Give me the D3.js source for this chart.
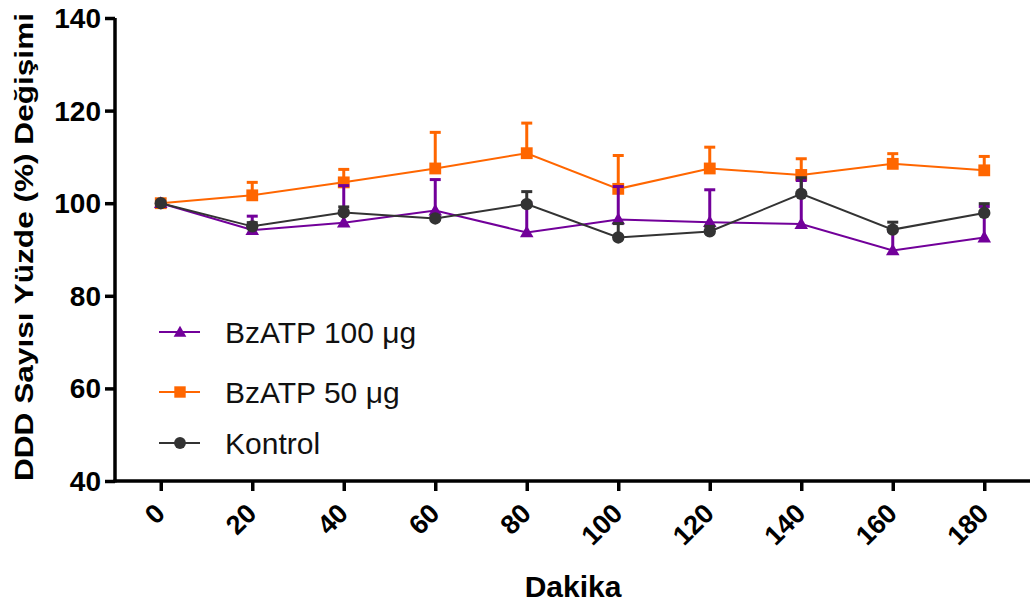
<!DOCTYPE html>
<html>
<head>
<meta charset="utf-8">
<script src="https://cdn.jsdelivr.net/npm/d3@7"></script>
<style>
  body { margin: 0; background: #fff; }
  svg { display: block; }
</style>
</head>
<body>
<script>
// chart values
const minutes = [0, 20, 40, 60, 80, 100, 120, 140, 160, 180];
const yTicks = [40, 60, 80, 100, 120, 140];

const bz100 = [100, 94.2, 95.8, 98.4, 93.7, 96.5, 95.9, 95.5, 89.8, 92.6];
const bz100Err = [0, 3.0, 8.0, 6.7, 6.4, 7.1, 7.0, 9.4, 4.2, 6.7];

const bz50 = [100, 101.7, 104.5, 107.5, 110.8, 103.1, 107.5, 106.1, 108.5, 107.1];
const bz50Err = [0, 2.8, 2.8, 7.8, 6.5, 7.2, 4.6, 3.5, 2.2, 3.0];

const kontrol = [100, 95.0, 98.0, 96.7, 99.8, 92.6, 93.9, 102.0, 94.3, 97.9];
const kontrolErr = [0, 0.8, 1.2, 0, 2.7, 3.0, 1.1, 3.5, 1.6, 2.0];

const seriesNames = ['BzATP 100 \u03bcg', 'BzATP 50 \u03bcg', 'Kontrol'];

const W = 1030, H = 607;
const svg = d3.select('body').append('svg')
  .attr('width', W)
  .attr('height', H);

const x = d3.scaleLinear().domain([-10, 190]).range([115, 1030]);
const y = d3.scaleLinear().domain([40, 140]).range([481, 18]);

// series (draw order: orange, purple, black)
const series = [
  { name: seriesNames[1], vals: bz50, err: bz50Err, color: '#ff6600', sym: d3.symbolSquare, size: 140 },
  { name: seriesNames[0], vals: bz100, err: bz100Err, color: '#72009a', sym: d3.symbolTriangle, size: 80 },
  { name: seriesNames[2], vals: kontrol, err: kontrolErr, color: '#333333', sym: d3.symbolCircle, size: 120 }
];

const line = d3.line()
  .x(d => x(d[0]))
  .y(d => y(d[1]));

series.forEach(s => {
  const g = svg.append('g');
  const pts = minutes.map((m, i) => [m, s.vals[i], s.err[i]]);

  g.append('path')
    .attr('d', line(pts))
    .attr('fill', 'none')
    .attr('stroke', s.color)
    .attr('stroke-width', 2);

  // error bars (upper only)
  const eb = g.selectAll('.eb').data(pts.filter(p => p[2] > 0)).enter().append('g');
  eb.append('line')
    .attr('x1', d => x(d[0])).attr('x2', d => x(d[0]))
    .attr('y1', d => y(d[1])).attr('y2', d => y(d[1] + d[2]))
    .attr('stroke', s.color).attr('stroke-width', 3);
  eb.append('line')
    .attr('x1', d => x(d[0]) - 5.5).attr('x2', d => x(d[0]) + 5.5)
    .attr('y1', d => y(d[1] + d[2])).attr('y2', d => y(d[1] + d[2]))
    .attr('stroke', s.color).attr('stroke-width', 3);

  g.selectAll('.pt').data(pts).enter().append('path')
    .attr('transform', d => `translate(${x(d[0])},${y(d[1]) + (s.sym === d3.symbolTriangle ? 1 : 0)})`)
    .attr('d', d3.symbol().type(s.sym).size(s.size))
    .attr('fill', s.color);
});

// axes
const xAxis = svg.append('g')
  .attr('transform', `translate(0,${y(40)})`)
  .call(d3.axisBottom(x).tickValues(minutes).tickSize(10).tickSizeOuter(0).tickFormat(''));
const yAxis = svg.append('g')
  .attr('transform', `translate(${x(-10)},0)`)
  .call(d3.axisLeft(y).tickValues(yTicks).tickSize(10).tickSizeOuter(0).tickFormat(''));

[xAxis, yAxis].forEach(a => {
  a.select('.domain').attr('stroke', '#000').attr('stroke-width', 3.5);
  a.selectAll('.tick line').attr('stroke', '#000').attr('stroke-width', 3.5);
});
xAxis.select('.domain').attr('d', `M${x(-10) - 1.5},0H${W}`);
yAxis.select('.domain').attr('d', `M0,${y(140)}V${y(40) + 1.5}`);

const font = 'Liberation Sans, Arial, Helvetica, sans-serif';

svg.append('g').selectAll('text').data(yTicks).enter().append('text')
  .attr('x', 101)
  .attr('y', d => y(d) + 10)
  .attr('text-anchor', 'end')
  .attr('font-family', font)
  .attr('font-weight', 'bold')
  .attr('font-size', 28)
  .text(d => d);

svg.append('g').selectAll('text').data(minutes).enter().append('text')
  .attr('transform', d => `translate(${x(d) + 6},${y(40) + 34}) rotate(-45)`)
  .attr('text-anchor', 'end')
  .attr('font-family', font)
  .attr('font-weight', 'bold')
  .attr('font-size', 27)
  .text(d => d);

// axis titles
svg.append('text')
  .attr('x', 573)
  .attr('y', 597)
  .attr('text-anchor', 'middle')
  .attr('font-family', font)
  .attr('font-weight', 'bold')
  .attr('font-size', 30)
  .text('Dakika');

svg.append('text')
  .attr('transform', 'translate(33,247) rotate(-90)')
  .attr('x', -234)
  .attr('textLength', 468)
  .attr('lengthAdjust', 'spacingAndGlyphs')
  .attr('font-family', font)
  .attr('font-weight', 'bold')
  .attr('font-size', 26)
  .text('DDD Sayısı Yüzde (%) Değişimi');

// legend
const legendOrder = [series[1], series[0], series[2]];
const legendY = [332, 392, 443];
const lg = svg.append('g').selectAll('g').data(legendOrder).enter().append('g')
  .attr('transform', (d, i) => `translate(0,${legendY[i]})`);
lg.append('line')
  .attr('x1', 159).attr('x2', 200)
  .attr('stroke', d => d.color).attr('stroke-width', 2);
lg.append('path')
  .attr('transform', d => `translate(180,${d.sym === d3.symbolTriangle ? 1 : 0})`)
  .attr('d', d => d3.symbol().type(d.sym).size(d.sym === d3.symbolSquare ? 130 : d.size - 10)())
  .attr('fill', d => d.color);
lg.append('text')
  .attr('x', 225)
  .attr('y', 11)
  .attr('font-family', font)
  .attr('font-size', 30)
  .attr('fill', '#111')
  .text(d => d.name);
</script>
</body>
</html>
